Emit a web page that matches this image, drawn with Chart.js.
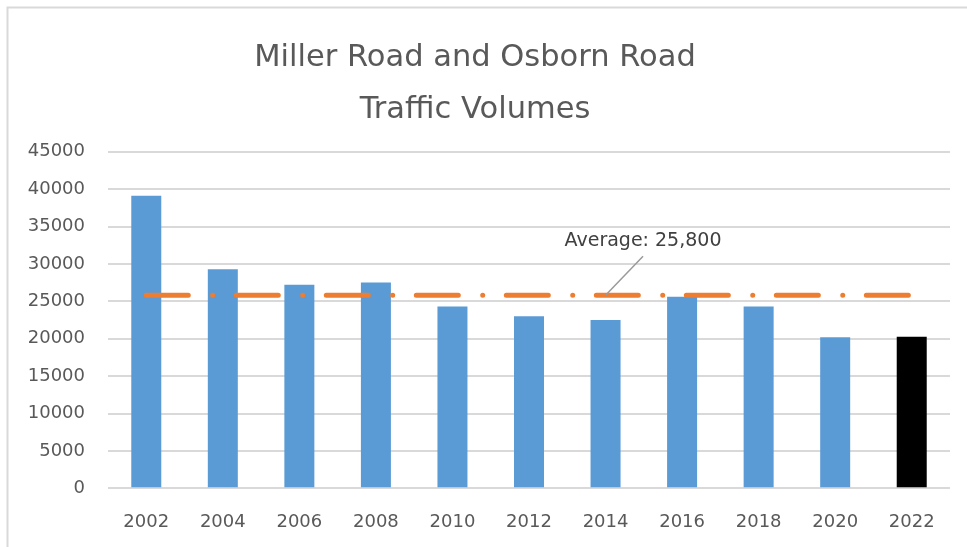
<!DOCTYPE html>
<html>
<head>
<meta charset="utf-8">
<script src="https://cdn.jsdelivr.net/npm/chart.js@4/dist/chart.umd.min.js"></script>
<style>
  html, body { margin: 0; padding: 0; background: #ffffff; }
  #wrap { width: 967px; height: 547px; position: relative; }
</style>
</head>
<body>
<div id="wrap"><canvas id="chart" width="967" height="547"></canvas></div>
<script>
// Traffic counts by survey year
const years = ['2002', '2004', '2006', '2008', '2010', '2012', '2014', '2016', '2018', '2020', '2022'];
const volumes = [39100, 29300, 27200, 27500, 24300, 23000, 22500, 25600, 24300, 20200, 20250];
const barColors = ['#5b9bd5', '#5b9bd5', '#5b9bd5', '#5b9bd5', '#5b9bd5', '#5b9bd5',
                   '#5b9bd5', '#5b9bd5', '#5b9bd5', '#5b9bd5', '#000000'];
const averageVolume = 25800;
const averageLabel = 'Average: 25,800';
const averageLabelYear = '2014';
const yTicks = [0, 5000, 10000, 15000, 20000, 25000, 30000, 35000, 40000, 45000];
const titleLines = ['Miller Road and Osborn Road', 'Traffic Volumes'];

const FONT = 'DejaVu Sans';
const TEXT = '#595959';

// Light frame along the top and left edges
const framePlugin = {
  id: 'frame',
  beforeDraw(chart) {
    const ctx = chart.ctx;
    ctx.save();
    ctx.strokeStyle = '#d9d9d9';
    ctx.lineWidth = 2;
    ctx.beginPath();
    ctx.moveTo(7.5, chart.height);
    ctx.lineTo(7.5, 7.5);
    ctx.lineTo(chart.width, 7.5);
    ctx.stroke();
    ctx.restore();
  }
};

// Callout with leader line pointing at the average line
const calloutPlugin = {
  id: 'callout',
  afterDatasetsDraw(chart) {
    const ctx = chart.ctx;
    const x = chart.scales.x.getPixelForValue(years.indexOf(averageLabelYear));
    const y = chart.scales.y.getPixelForValue(averageVolume);
    const tx = x + 37.5, ty = y - 39;
    ctx.save();
    ctx.strokeStyle = '#9a9a9a';
    ctx.lineWidth = 1.5;
    ctx.beginPath();
    ctx.moveTo(tx, ty);
    ctx.lineTo(x, y);
    ctx.stroke();
    ctx.fillStyle = '#404040';
    ctx.font = '19px "' + FONT + '"';
    ctx.textAlign = 'center';
    ctx.textBaseline = 'alphabetic';
    ctx.fillText(averageLabel, tx, ty - 10);
    ctx.restore();
  }
};

new Chart(document.getElementById('chart'), {
  data: {
    labels: years,
    datasets: [
      {
        type: 'line',
        label: 'Average',
        data: years.map(() => averageVolume),
        borderColor: '#ed7d31',
        borderWidth: 5,
        borderCapStyle: 'round',
        borderDash: [42, 24.4, 0.01, 23.6],
        pointRadius: 0,
        fill: false,
        order: 0
      },
      {
        type: 'bar',
        label: 'Traffic Volume',
        data: volumes,
        backgroundColor: barColors,
        barPercentage: 0.392,
        categoryPercentage: 1,
        order: 1
      }
    ]
  },
  options: {
    responsive: false,
    animation: false,
    devicePixelRatio: 1,
    layout: { padding: { left: 0, right: 17, top: 0, bottom: 0 } },
    plugins: {
      legend: { display: false },
      tooltip: { enabled: false },
      title: {
        display: true,
        text: titleLines,
        color: TEXT,
        font: { family: FONT, size: 30.5, weight: 'normal', lineHeight: 1.7 },
        padding: { top: 32, bottom: 16 }
      }
    },
    scales: {
      x: {
        grid: { display: false },
        border: { display: false },
        ticks: { color: TEXT, font: { family: FONT, size: 18 }, padding: 15, maxRotation: 0 },
        afterFit(scale) { scale.height = 58.7; }
      },
      y: {
        min: 0,
        max: 45000,
        afterBuildTicks(scale) { scale.ticks = yTicks.map(v => ({ value: v })); },
        grid: { color: '#d9d9d9', lineWidth: 2, drawTicks: false },
        border: { display: false },
        ticks: {
          color: TEXT,
          font: { family: FONT, size: 18 },
          padding: 23,
          callback: (v) => String(v)
        },
        afterFit(scale) { scale.width = 108; }
      }
    }
  },
  plugins: [framePlugin, calloutPlugin]
});
</script>
</body>
</html>
